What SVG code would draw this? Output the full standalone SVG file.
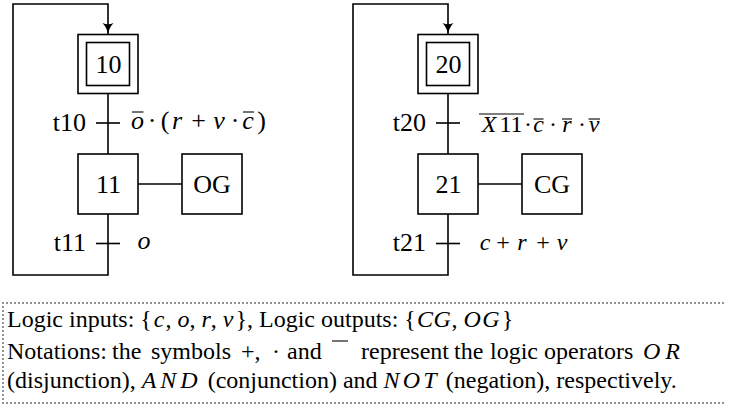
<svg xmlns="http://www.w3.org/2000/svg" width="729" height="408" viewBox="0 0 729 408">
  <style>
    .box { fill: #fff; stroke: #000; stroke-width: 1.6; }
    .wire { fill: none; stroke: #000; stroke-width: 1.6; }
    .bar { stroke: #000; stroke-width: 1.1; }
    .lbl { font-family: "Liberation Serif", "Times New Roman", serif; font-size: 26px; fill: #000; }
    .m1 { font-family: "Liberation Serif", "Times New Roman", serif; font-size: 26px; fill: #000; text-anchor: middle; }
    .m2 { font-family: "Liberation Serif", "Times New Roman", serif; font-size: 24px; fill: #000; text-anchor: middle; }
    .mid { text-anchor: middle; }
    .end { text-anchor: end; }
    .it { font-style: italic; }
    .note { font-family: "Liberation Serif", "Times New Roman", serif; font-size: 24px; fill: #000; }
    .dots { fill: none; stroke: #000; stroke-width: 1.6; stroke-linecap: round; stroke-dasharray: 0 4; }
  </style>
  <defs>
    <marker id="arr" markerWidth="12" markerHeight="12" refX="11" refY="6" orient="auto" markerUnits="userSpaceOnUse">
      <path d="M0,0.5 Q5,5 11,6 Q5,7 0,11.5 Q2.5,6 0,0.5 Z" fill="#000"/>
    </marker>
  </defs>

  <!-- connectors -->
  <g id="connectors">
    <!-- chart 1 -->
    <path class="wire" d="M108,93.5 V275 H13 V4 H108 V34" marker-end="url(#arr)"/>
    <line class="wire" x1="96" y1="123" x2="120" y2="123"/>
    <line class="wire" x1="96" y1="243.5" x2="120" y2="243.5"/>
    <line class="wire" x1="138" y1="184" x2="182" y2="184"/>
    <!-- chart 2 -->
    <path class="wire" d="M448,93.5 V275 H353 V4 H448 V34" marker-end="url(#arr)"/>
    <line class="wire" x1="436" y1="123" x2="460" y2="123"/>
    <line class="wire" x1="436" y1="243.5" x2="460" y2="243.5"/>
    <line class="wire" x1="478" y1="184" x2="522" y2="184"/>
  </g>

  <!-- chart 1 nodes -->
  <g id="step10">
    <rect class="box" x="78" y="34.5" width="60" height="59"/>
    <rect class="box" x="86.5" y="42.5" width="43" height="43"/>
    <text class="lbl mid" x="108.5" y="73">10</text>
  </g>
  <g id="step11">
    <rect class="box" x="78" y="154" width="60" height="60"/>
    <text class="lbl mid" x="108.5" y="192.5">11</text>
  </g>
  <g id="actionOG">
    <rect class="box" x="182" y="154" width="60" height="60"/>
    <text class="lbl mid" x="212" y="192.5">OG</text>
  </g>
  <g id="t10">
    <text class="lbl end" x="86" y="131">t10</text>
    <text class="m1" y="129"><tspan class="it" x="137.5">o</tspan><tspan x="152">·</tspan><tspan x="165">(</tspan><tspan class="it" x="177">r</tspan><tspan x="198.5">+</tspan><tspan class="it" x="219">v</tspan><tspan x="235">·</tspan><tspan class="it" x="248">c</tspan><tspan x="261.5">)</tspan></text>
    <line class="bar" x1="132" y1="112" x2="143.5" y2="112"/>
    <line class="bar" x1="243" y1="112" x2="254" y2="112"/>
  </g>
  <g id="t11">
    <text class="lbl end" x="86" y="251">t11</text>
    <text class="m1 it" x="144" y="248.5">o</text>
  </g>

  <!-- chart 2 nodes -->
  <g id="step20">
    <rect class="box" x="418" y="34.5" width="60" height="59"/>
    <rect class="box" x="426.5" y="42.5" width="43" height="43"/>
    <text class="lbl mid" x="448.5" y="73">20</text>
  </g>
  <g id="step21">
    <rect class="box" x="418" y="154" width="60" height="60"/>
    <text class="lbl mid" x="448.5" y="192.5">21</text>
  </g>
  <g id="actionCG">
    <rect class="box" x="522" y="154" width="60" height="60"/>
    <text class="lbl mid" x="552" y="192.5">CG</text>
  </g>
  <g id="t20">
    <text class="lbl end" x="426" y="131">t20</text>
    <text class="m2" y="132"><tspan class="it" x="489">X</tspan><tspan x="511">11</tspan><tspan x="528">·</tspan><tspan class="it" x="538.5">c</tspan><tspan x="553">·</tspan><tspan class="it" x="567">r</tspan><tspan x="582">·</tspan><tspan class="it" x="594">v</tspan></text>
    <line class="bar" x1="479" y1="114" x2="524" y2="114"/>
    <line class="bar" x1="533.5" y1="119" x2="543.5" y2="119"/>
    <line class="bar" x1="562" y1="119" x2="572" y2="119"/>
    <line class="bar" x1="588.5" y1="119" x2="600" y2="119"/>
  </g>
  <g id="t21">
    <text class="lbl end" x="426" y="251">t21</text>
    <text class="m2" y="249.5"><tspan class="it" x="485">c</tspan><tspan x="503">+</tspan><tspan class="it" x="522">r</tspan><tspan x="543">+</tspan><tspan class="it" x="562">v</tspan></text>
  </g>

  <!-- legend -->
  <g id="legend">
    <path class="dots" d="M3,303 H727 M3,403 H727 M3,303 V403"/>
    <text class="note" y="327" x="7">Logic inputs: {<tspan class="it" dx="2">c</tspan><tspan dx="1">,</tspan> <tspan class="it">o</tspan>, <tspan class="it">r</tspan>, <tspan class="it">v</tspan><tspan dx="2">}, Logic outputs: {</tspan><tspan class="it" dx="1" textLength="34" lengthAdjust="spacing">CG</tspan>, <tspan class="it" textLength="36" lengthAdjust="spacing">OG</tspan><tspan dx="1">}</tspan></text>
    <text class="note" y="359"><tspan x="7">Notations:</tspan><tspan x="112">the</tspan><tspan x="151">symbols</tspan><tspan x="241">+,</tspan><tspan x="272">·</tspan><tspan x="287">and</tspan><tspan x="361">represent</tspan><tspan x="454">the</tspan><tspan x="490">logic</tspan><tspan x="544">operators</tspan><tspan class="it" x="643" textLength="37" lengthAdjust="spacing">OR</tspan></text>
    <line class="bar" x1="332" y1="341" x2="348" y2="341"/>
    <text class="note" y="388" x="7">(disjunction), <tspan class="it" textLength="56" lengthAdjust="spacing">AND</tspan> (conjunction) and <tspan class="it" textLength="53" lengthAdjust="spacing">NOT</tspan> (negation), respectively.</text>
  </g>
</svg>
